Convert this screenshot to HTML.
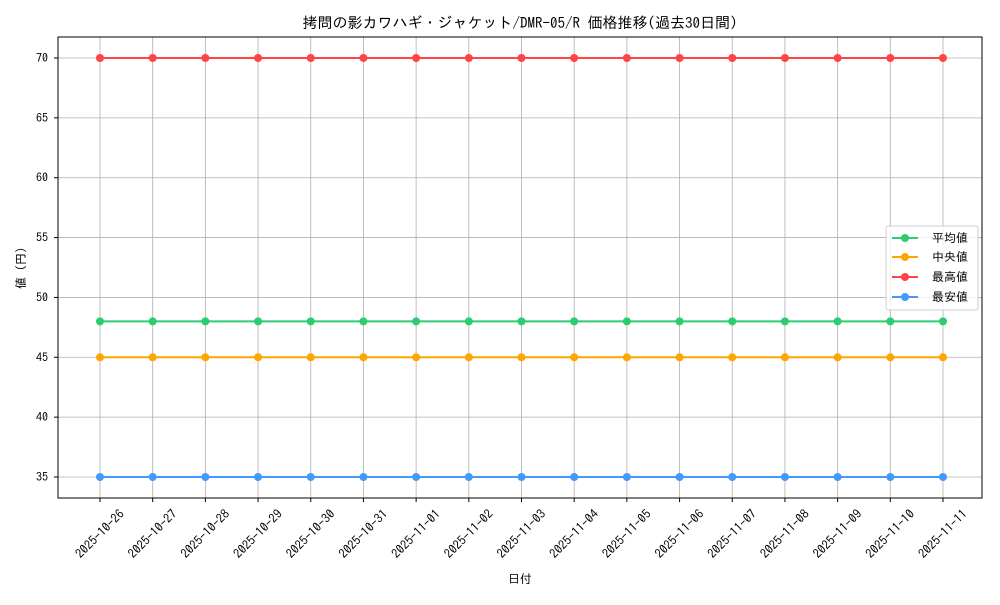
<!DOCTYPE html>
<html><head><meta charset="utf-8"><style>
body{margin:0;background:#fff}
svg text{font-family:"IPAGothic","Noto Sans CJK JP",monospace;fill:#000}
</style></head><body>
<svg width="1000" height="600" viewBox="0 0 1000 600" xmlns="http://www.w3.org/2000/svg">
<rect width="1000" height="600" fill="#fff"/>
<text x="520" y="28" font-size="15" text-anchor="middle">拷問の影カワハギ・ジャケット/DMR-05/R 価格推移(過去30日間)</text>
<g id="grid" stroke="#b0b0b0" stroke-width="0.8"></g>
<g id="series"></g>
<rect x="58" y="37" width="924" height="461" fill="none" stroke="#000" stroke-width="1"/>
<g id="ticks" font-size="12"></g>
<text x="520" y="583" font-size="12" text-anchor="middle">日付</text>
<text transform="translate(25,268) rotate(-90)" font-size="12" text-anchor="middle">値 (円)</text>
<g>
<rect x="886" y="226" width="92" height="84" fill="#fff" fill-opacity="0.8" stroke="#ccc" rx="2"/>
<line x1="892" y1="238" x2="918" y2="238" stroke="#2ecc71" stroke-width="2"/><circle cx="905" cy="238" r="4" fill="#2ecc71"/><text x="932" y="242" font-size="12">平均値</text>
<line x1="892" y1="257" x2="918" y2="257" stroke="#ffa500" stroke-width="2"/><circle cx="905" cy="257" r="4" fill="#ffa500"/><text x="932" y="261" font-size="12">中央値</text>
<line x1="892" y1="277" x2="918" y2="277" stroke="#ff4444" stroke-width="2"/><circle cx="905" cy="277" r="4" fill="#ff4444"/><text x="932" y="281" font-size="12">最高値</text>
<line x1="892" y1="297" x2="918" y2="297" stroke="#4499ff" stroke-width="2"/><circle cx="905" cy="297" r="4" fill="#4499ff"/><text x="932" y="301" font-size="12">最安値</text>
</g>
</svg>
<script>
const ns="http://www.w3.org/2000/svg";
const g=document.getElementById('grid'),s=document.getElementById('series'),t=document.getElementById('ticks');
function el(tag,a,p){const e=document.createElementNS(ns,tag);for(const k in a)e.setAttribute(k,a[k]);p.appendChild(e);return e;}
const X=i=>100+i*(843/16), Y=v=>58+(70-v)*(419/35);
const dates=["2025-10-26","2025-10-27","2025-10-28","2025-10-29","2025-10-30","2025-10-31","2025-11-01","2025-11-02","2025-11-03","2025-11-04","2025-11-05","2025-11-06","2025-11-07","2025-11-08","2025-11-09","2025-11-10","2025-11-11"];
dates.forEach((d,i)=>{const x=X(i);el('line',{x1:x,x2:x,y1:37,y2:498},g);el('line',{x1:x,x2:x,y1:498,y2:502,stroke:'#000'},t);
const tx=el('text',{transform:`translate(${x},${534}) rotate(-45)`,'text-anchor':'middle','font-size':12.5,dy:4},t);tx.textContent=d;});
for(let v=35;v<=70;v+=5){const y=Y(v);el('line',{x1:58,x2:982,y1:y,y2:y},g);el('line',{x1:54,x2:58,y1:y,y2:y,stroke:'#000'},t);
const tx=el('text',{x:48,y:y+4,'text-anchor':'end','font-size':12},t);tx.textContent=v;}
[[48,'#2ecc71'],[45,'#ffa500'],[70,'#ff4444'],[35,'#4499ff']].forEach(([v,c])=>{const y=Y(v);
el('line',{x1:X(0),x2:X(16),y1:y,y2:y,stroke:c,'stroke-width':2},s);
for(let i=0;i<17;i++)el('circle',{cx:X(i),cy:y,r:4,fill:c},s);});
</script>
</body></html>
